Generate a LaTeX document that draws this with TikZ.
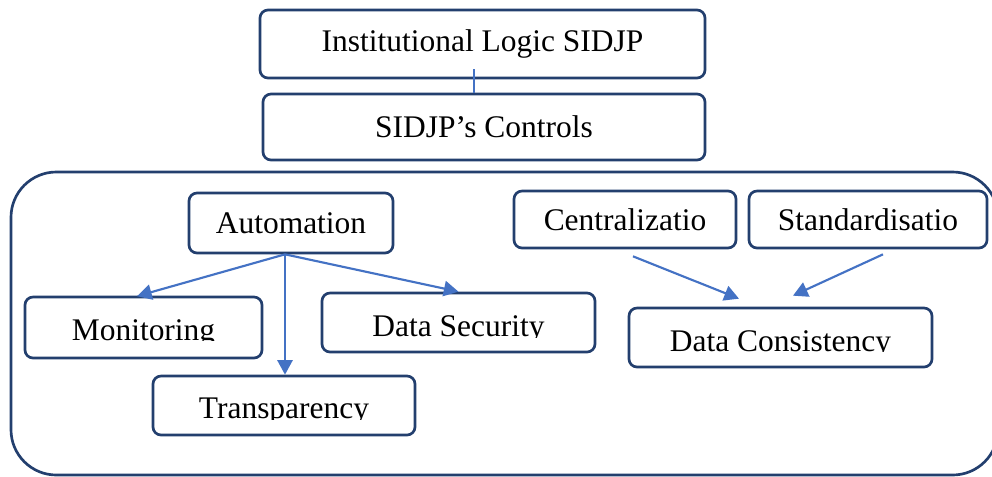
\documentclass[tikz,border=0pt]{standalone}
\usepackage{fontspec}
\setmainfont{Liberation Serif}
\usetikzlibrary{arrows.meta,calc}
\definecolor{boxline}{HTML}{233F6E}
\definecolor{arrowblue}{HTML}{4472C4}
\begin{document}
\begin{tikzpicture}[x=0.75pt,y=-0.75pt,
  txt/.style={font=\fontsize{23.6}{28}\selectfont, inner sep=0pt},
  box/.style 2 args={draw=boxline, line width=2pt, rounded corners=6pt,
    fill=white, inner sep=0pt, txt,
    minimum width=#1*0.75pt, minimum height=#2*0.75pt},
  flow/.style={draw=arrowblue, line width=1.6pt,
    -{Triangle[length=11pt,width=11.5pt]}},
  link/.style={draw=arrowblue, line width=1.3pt}]
\useasboundingbox (0,0) rectangle (992,476);

% outer frame around the control group
\draw[boxline, line width=2pt, rounded corners=34pt] (11,172) rectangle (998,475);

% top chain
\node[box={445}{68}] (inst) at (482.5,44) {Institutional Logic SIDJP};
\node[box={442}{66}] (ctrl) at (484,127) {SIDJP’s Controls};
\draw[link] ($(inst.south)+(-8.5,-10)$) -- ($(ctrl.north)+(-10,0)$);

% automation branch
\node[box={204}{60}] (auto) at (291,223) {Automation};
\node[box={237}{61}] (mon) at (143.5,327.5) {};
\node[box={262}{59}] (trans) at (284,405.5) {};
\node[box={273}{59}] (sec) at (458.5,322.5) {};

% consistency branch
\node[box={222}{57}] (cent) at (625,219.5) {Centralizatio};
\node[box={238}{57}] (std) at (868,219.5) {Standardisatio};
\node[box={303}{59}] (cons) at (780.5,337.5) {};

% labels whose descenders are cut at the baseline
\begin{scope}
  \clip (mon.north west) rectangle ($(mon.east)+(0,12.5)$);
  \node[txt, anchor=base] (monlbl) at (143.5,340) {Monitoring};
\end{scope}
\begin{scope}
  \clip (trans.north west) rectangle ($(trans.east)+(0,13.5)$);
  \node[txt, anchor=base] (translbl) at (284,418) {Transparency};
\end{scope}
\begin{scope}
  \clip (sec.north west) rectangle ($(sec.east)+(0,15)$);
  \node[txt, anchor=base] (seclbl) at (458.5,336.5) {Data Security};
\end{scope}
\begin{scope}
  \clip (cons.north west) rectangle ($(cons.east)+(0,14)$);
  \node[txt, anchor=base] (conslbl) at (780.5,351) {Data Consistency};
\end{scope}

% arrows
\coordinate (hub) at ($(auto.south)+(-6,0)$);
\draw[flow] (hub) -- ($(mon.north)+(-6.5,0.5)$);
\draw[flow] (hub) -- ($(trans.north)+(1,0)$);
\draw[flow] (hub) -- (sec.north);
\draw[flow] ($(cent.south)+(8,7)$) -- ($(cons.north)+(-41.5,-8)$);
\draw[flow] ($(std.south)+(15,5)$) -- ($(cons.north)+(12.5,-11)$);
\end{tikzpicture}
\end{document}
